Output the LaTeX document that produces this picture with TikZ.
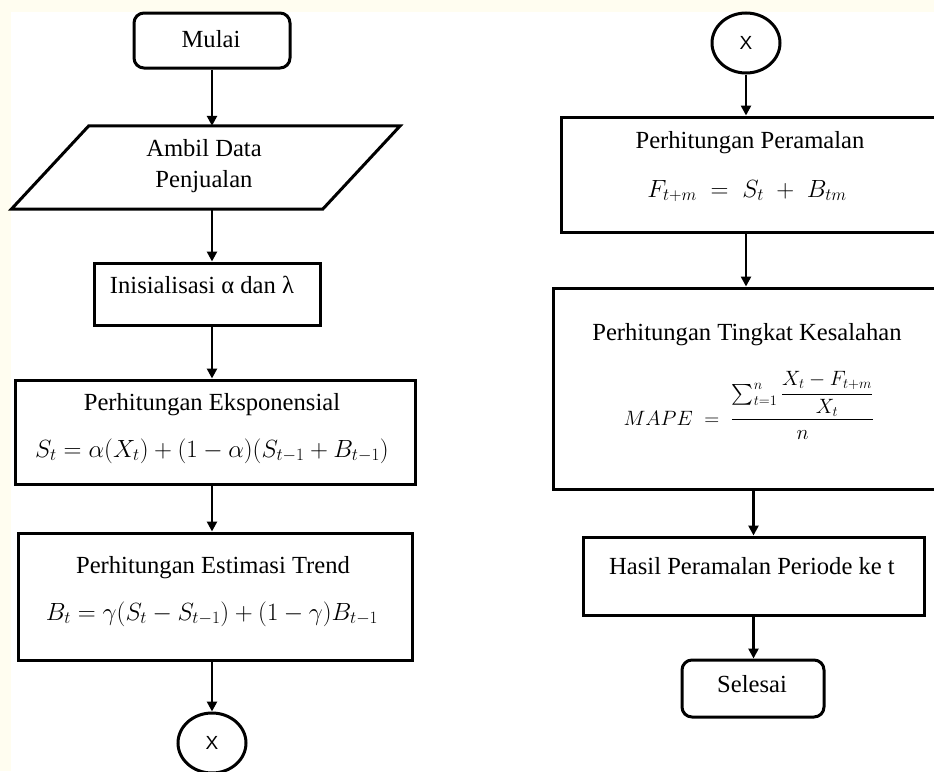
\documentclass[tikz,border=0pt]{standalone}
\usepackage{fontspec}
\usepackage{amsmath}
\setmainfont{Liberation Serif}
\newfontfamily\xsans{Liberation Sans}
\usetikzlibrary{arrows.meta,shapes.geometric}
\definecolor{paper}{RGB}{255,253,240}
\begin{document}
\begin{tikzpicture}[x=1pt,y=-1pt,
  boxline/.style={draw=black,line width=3pt},
  procbox/.style={boxline,rectangle,inner sep=0pt},
  termbox/.style={boxline,rectangle,rounded corners=10pt,inner sep=0pt},
  connector/.style={boxline,ellipse,inner sep=0pt,minimum width=68pt,minimum height=60pt,
    font=\xsans\fontsize{19}{21}\selectfont},
  label/.style={inner sep=0pt,anchor=base,font=\fontsize{24.6}{31}\selectfont,align=center},
  flow/.style={line width=2.8pt,-{Triangle[length=10pt,width=10pt]}},
]
\useasboundingbox (0,0) rectangle (934,771);
% page background
\fill[paper] (0,0) rectangle (934,771);
\fill[white] (11,12) rectangle (934,771);
\begin{scope}
\clip (0,0) rectangle (934,771);

% column guides
\coordinate (colL) at (212,0);
\coordinate (colR) at (746,0);

% ---------------- left column ----------------
\node[termbox,minimum width=156pt,minimum height=55pt] (mulai) at (212,40.5) {};
\node[label] (tmulai) at (211,47) {Mulai};

\node[inner sep=0pt,minimum width=311pt,minimum height=83pt] (data) at (205.75,167.5) {};
\draw[boxline,line join=miter]
  ([xshift=38.75pt]data.north west) -- ([xshift=38.75pt]data.north east)
  -- ([xshift=-38.75pt]data.south east) -- ([xshift=-38.75pt]data.south west) -- cycle;
\node[label] (tdata) at (204,187) {Ambil Data\\Penjualan};

\node[procbox,minimum width=226pt,minimum height=62pt] (init) at (207,294) {};
\node[label] (tinit) at (202,293) {Inisialisasi α dan λ};

\node[procbox,minimum width=400pt,minimum height=104pt] (ekspo) at (215,432) {};
\node[label] (tekspo) at (212,410) {Perhitungan Eksponensial};
\node[label] (fekspo) at (212,457) {$S_t = \alpha(X_t) + (1-\alpha)(S_{t-1} + B_{t-1})$};

\node[procbox,minimum width=394pt,minimum height=127pt] (trend) at (215,596.5) {};
\node[label] (ttrend) at (213,573) {Perhitungan Estimasi Trend};
\node[label] (ftrend) at (212,620) {$B_t = \gamma(S_t - S_{t-1}) + (1-\gamma)B_{t-1}$};

\node[connector] (xl) at (212,743) {X};

% ---------------- right column ----------------
\node[connector] (xr) at (746,43) {X};

\node[procbox,minimum width=379pt,minimum height=115pt] (ramal) at (750.5,174.5) {};
\node[label] (tramal) at (750,148) {Perhitungan Peramalan};
\node[label] (framal) at (747,197) {$F_{t+m} \;=\; S_t \;+\; B_{tm}$};

\node[procbox,minimum width=387pt,minimum height=201pt] (salah) at (746.5,388.5) {};
\node[label] (tsalah) at (747,340) {Perhitungan Tingkat Kesalahan};
\node[label,font=\fontsize{20.5}{24}\selectfont] (fsalah) at (749,425)
  {$\displaystyle MAPE \;=\; \frac{\textstyle\sum_{t=1}^{n}\displaystyle\frac{X_t - F_{t+m}}{X_t}}{n}$};

\node[procbox,minimum width=341pt,minimum height=78pt] (hasil) at (753.5,576) {};
\node[label] (thasil) at (752,574) {Hasil Peramalan Periode ke t};

\node[termbox,minimum width=142pt,minimum height=57pt] (selesai) at (753,688.5) {};
\node[label] (tselesai) at (752,692) {Selesai};

% ---------------- connectors ----------------
\draw[flow] (mulai.south) -- (mulai.south |- data.north);
\draw[flow] (data.south -| colL) -- (colL |- init.north);
\draw[flow] (init.south -| colL) -- (colL |- ekspo.north);
\draw[flow] (ekspo.south -| colL) -- (colL |- trend.north);
\draw[flow] (trend.south -| colL) -- (xl.north);

\draw[flow] (xr.south) -- (xr.south |- ramal.north);
\draw[flow] (ramal.south -| colR) -- (colR |- salah.north);
\draw[flow] (salah.south -| hasil.north) -- (hasil.north);
\draw[flow] (hasil.south) -- (hasil.south |- selesai.north);
\end{scope}
\end{tikzpicture}
\end{document}
